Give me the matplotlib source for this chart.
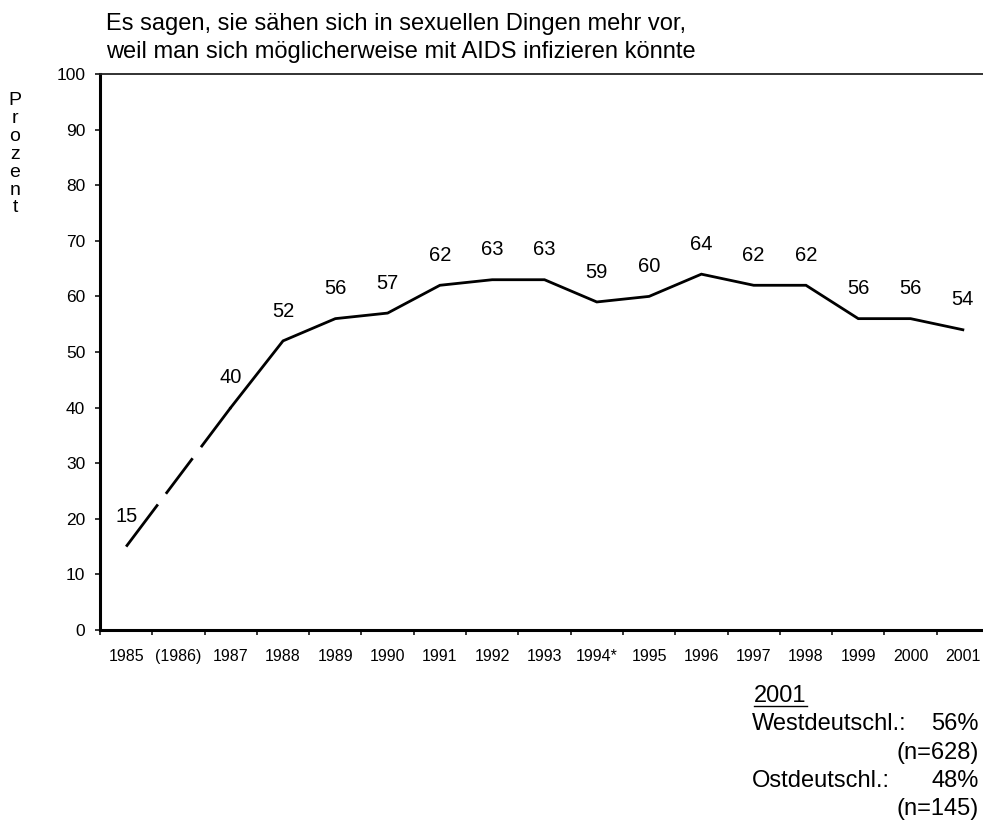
from __future__ import annotations

import matplotlib

matplotlib.use("Agg")
import matplotlib.pyplot as plt
from matplotlib.lines import Line2D

W, H = 983, 823

years = ["1985", "(1986)", "1987", "1988", "1989", "1990", "1991", "1992", "1993",
         "1994*", "1995", "1996", "1997", "1998", "1999", "2000", "2001"]
percent = [15, None, 40, 52, 56, 57, 62, 63, 63, 59, 60, 64, 62, 62, 56, 56, 54]
y_ticks = [0, 10, 20, 30, 40, 50, 60, 70, 80, 90, 100]

title_lines = [
    "Es sagen, sie sähen sich in sexuellen Dingen mehr vor,",
    "weil man sich möglicherweise mit AIDS infizieren könnte",
]
split_year = "2001"
split_rows = [("Westdeutschl.:", "56%"), ("", "(n=628)"), ("Ostdeutschl.:", "48%"), ("", "(n=145)")]

plt.rcParams["font.family"] = ["Liberation Sans", "DejaVu Sans"]


def fx(px: float) -> float:
    return px / W


def fy(py: float) -> float:
    return 1 - py / H


fig = plt.figure(figsize=(W / 100, H / 100), dpi=100)
ax = fig.add_axes([fx(100), fy(630), fx(989) - fx(100), fy(74) - fy(630)])

xs = list(range(len(years)))
known = [(x, v) for x, v in zip(xs, percent) if v is not None]

# 1986 has no survey: bridge 1985 -> 1987 with a dashed line, solid afterwards
(x0, v0), (x1, v1) = known[0], known[1]
ax.plot([x0, x1], [v0, v1], color="black", lw=2.0,
        linestyle=(0, (19, 4.8, 16, 5)), dash_capstyle="butt")
ax.plot([x for x, _ in known[1:]], [v for _, v in known[1:]], color="black", lw=2.0,
        solid_joinstyle="miter")

for x, v in known:
    ax.annotate(str(v), (x, v), xytext=(0, 21.5), textcoords="offset points",
                ha="center", va="center", fontsize=14.5)

ax.set_xlim(-0.5, len(years) - 0.5)
ax.set_ylim(0, 100)
ax.set_yticks(y_ticks)
ax.tick_params(axis="y", length=3.6, width=1.1, pad=7, labelsize=12.5)

ax.set_xticks([x - 0.5 for x in xs])
ax.set_xticklabels([])
ax.tick_params(axis="x", which="major", length=3.6, width=1.1)
ax.set_xticks(xs, minor=True)
ax.set_xticklabels(years, minor=True)
ax.tick_params(axis="x", which="minor", length=0, pad=14, labelsize=11.5)

for side in ("left", "bottom"):
    ax.spines[side].set_linewidth(2.2)
ax.spines["top"].set_linewidth(1.3)
ax.spines["top"].set_color("#222222")
ax.spines["right"].set_visible(False)

fig.text(fx(15), fy(92), "\n".join("Prozent"), ha="center", va="top",
         fontsize=14, linespacing=1.07)

for line, base in zip(title_lines, (30, 58)):
    fig.text(fx(106), fy(base), line, ha="left", va="baseline", fontsize=17)

year_text = fig.text(fx(754), fy(702), split_year, ha="left", va="baseline", fontsize=17)
for i, (name, val) in enumerate(split_rows):
    base = 730 + i * 28.5
    if name:
        fig.text(fx(752), fy(base), name, ha="left", va="baseline", fontsize=17)
    fig.text(fx(979), fy(base), val, ha="right", va="baseline", fontsize=17)

# underline the year heading
fig.canvas.draw()
bb = year_text.get_window_extent()
fig.add_artist(Line2D([fx(bb.x0), fx(bb.x1)], [fy(706), fy(706)],
                      transform=fig.transFigure, color="black", lw=1.0))

fig.savefig("out.png", dpi=100)
